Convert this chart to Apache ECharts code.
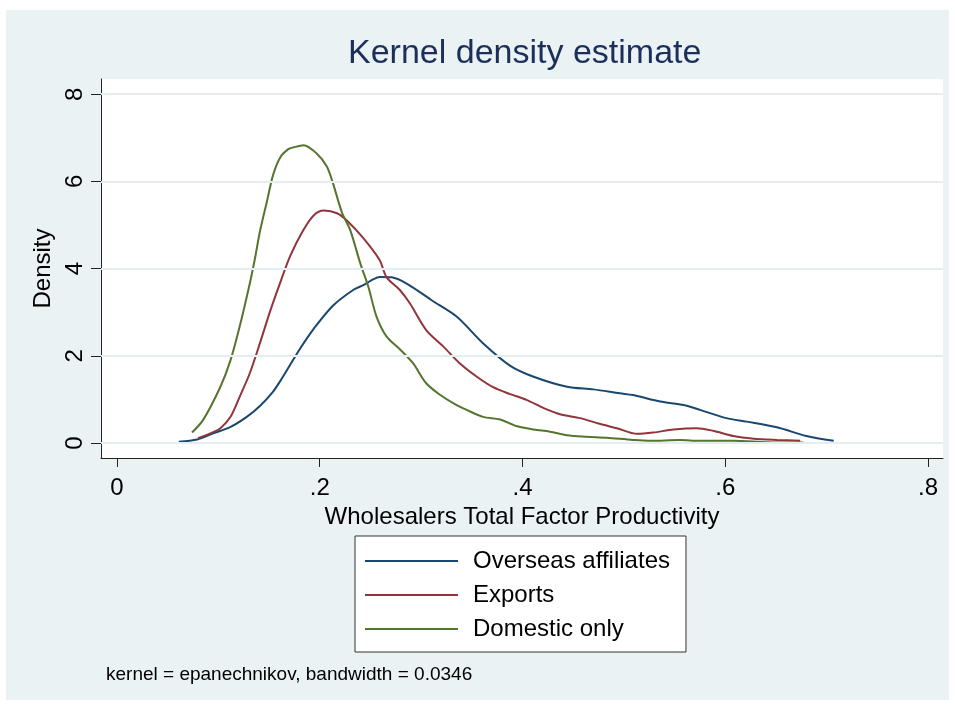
<!DOCTYPE html>
<html>
<head>
<meta charset="utf-8">
<script src="https://cdn.jsdelivr.net/npm/echarts@6/dist/echarts.min.js"></script>
<style>
  html, body { margin: 0; padding: 0; background: #ffffff; }
  #wrap { position: relative; width: 955px; height: 706px; }
  #panel { position: absolute; left: 6px; top: 10px; width: 943px; height: 690px; background: #eaf2f3; }
  #chart { position: absolute; left: 0; top: 0; width: 955px; height: 706px; }
</style>
</head>
<body>
<div id="wrap">
  <div id="panel"></div>
  <div id="chart"></div>
</div>
<script>
// Kernel density curves of wholesaler TFP by firm type
const seriesNames = ['Overseas affiliates', 'Exports', 'Domestic only'];
const seriesColors = ['#1a476f', '#90353b', '#55752f'];

const overseasX = [0.061, 0.079, 0.095, 0.112, 0.128, 0.141, 0.154, 0.161, 0.171, 0.181, 0.194, 0.213, 0.233, 0.243, 0.250, 0.259, 0.271, 0.287, 0.310, 0.335, 0.361, 0.388, 0.411, 0.444, 0.470, 0.496, 0.509, 0.536, 0.559, 0.575, 0.601, 0.621, 0.651, 0.680, 0.707];
const overseasY = [0.03, 0.08, 0.22, 0.37, 0.60, 0.85, 1.18, 1.42, 1.80, 2.18, 2.62, 3.15, 3.51, 3.62, 3.72, 3.81, 3.80, 3.64, 3.28, 2.90, 2.29, 1.77, 1.52, 1.29, 1.23, 1.14, 1.10, 0.95, 0.87, 0.76, 0.57, 0.49, 0.36, 0.16, 0.05];

const exportsX = [0.080, 0.092, 0.102, 0.112, 0.121, 0.131, 0.141, 0.151, 0.161, 0.171, 0.184, 0.194, 0.204, 0.217, 0.227, 0.243, 0.259, 0.266, 0.279, 0.289, 0.305, 0.322, 0.338, 0.355, 0.371, 0.388, 0.404, 0.421, 0.437, 0.457, 0.476, 0.493, 0.513, 0.529, 0.549, 0.572, 0.588, 0.608, 0.628, 0.651, 0.674];
const exportsY = [0.11, 0.22, 0.34, 0.60, 1.06, 1.60, 2.29, 3.02, 3.68, 4.30, 4.89, 5.22, 5.33, 5.27, 5.10, 4.70, 4.20, 3.80, 3.51, 3.20, 2.59, 2.21, 1.83, 1.52, 1.28, 1.12, 0.99, 0.80, 0.66, 0.57, 0.44, 0.34, 0.21, 0.24, 0.31, 0.34, 0.28, 0.16, 0.10, 0.07, 0.05];

const domesticX = [0.074, 0.085, 0.102, 0.112, 0.121, 0.131, 0.136, 0.141, 0.148, 0.154, 0.161, 0.169, 0.174, 0.184, 0.197, 0.207, 0.213, 0.222, 0.230, 0.240, 0.248, 0.256, 0.266, 0.279, 0.292, 0.305, 0.319, 0.332, 0.345, 0.361, 0.378, 0.394, 0.411, 0.427, 0.444, 0.463, 0.483, 0.509, 0.526, 0.555, 0.575, 0.608, 0.641, 0.677];
const domesticY = [0.24, 0.53, 1.29, 1.90, 2.67, 3.66, 4.22, 4.85, 5.55, 6.15, 6.55, 6.74, 6.78, 6.83, 6.64, 6.34, 5.96, 5.28, 4.89, 4.12, 3.58, 2.90, 2.44, 2.15, 1.83, 1.37, 1.10, 0.91, 0.76, 0.60, 0.54, 0.39, 0.31, 0.26, 0.18, 0.145, 0.12, 0.07, 0.05, 0.07, 0.05, 0.05, 0.02, 0.01];

const xTicks = [0, 0.2, 0.4, 0.6, 0.8];
const yTicks = [0, 2, 4, 6, 8];

const titleText = 'Kernel density estimate';
const xAxisTitle = 'Wholesalers Total Factor Productivity';
const yAxisTitle = 'Density';
const noteText = 'kernel = epanechnikov, bandwidth = 0.0346';

const FONT = '"Liberation Sans", Arial, Helvetica, sans-serif';

function pairs(xs, ys) {
  return xs.map((x, i) => [x, ys[i]]);
}
const curves = [pairs(overseasX, overseasY), pairs(exportsX, exportsY), pairs(domesticX, domesticY)];

function stataNum(v) {
  if (v === 0) return '0';
  return String(+v.toFixed(4)).replace(/^0\./, '.');
}

const chart = echarts.init(document.getElementById('chart'), null, { renderer: 'canvas' });

const lineSeries = seriesNames.map((name, i) => ({
  name: name,
  type: 'line',
  data: curves[i],
  showSymbol: false,
  symbol: 'none',
  smooth: 0.3,
  z: 3,
  lineStyle: { color: seriesColors[i], width: 2 },
  itemStyle: { color: seriesColors[i] },
  emphasis: { disabled: true }
}));

chart.setOption({
  backgroundColor: 'transparent',
  animation: false,
  textStyle: { fontFamily: FONT },
  title: {
    text: titleText,
    left: 348,
    top: 37,
    padding: 0,
    textStyle: { fontFamily: FONT, fontSize: 34, fontWeight: 'normal', color: '#1c2f5a' }
  },
  grid: {
    left: 101, top: 79, right: 12, bottom: 248,
    show: true, backgroundColor: '#ffffff', borderWidth: 0,
    containLabel: false
  },
  xAxis: {
    type: 'value',
    min: -0.01578,
    max: 0.8148,
    name: xAxisTitle,
    nameLocation: 'middle',
    nameGap: 40,
    nameTextStyle: { fontFamily: FONT, fontSize: 24, color: '#000' },
    axisLine: { show: true, onZero: false, lineStyle: { color: '#222', width: 1 } },
    axisTick: { show: true, customValues: xTicks, length: 9, lineStyle: { color: '#222', width: 1 } },
    axisLabel: { show: true, customValues: xTicks, margin: 18, fontFamily: FONT, fontSize: 24, color: '#000', formatter: stataNum },
    splitLine: { show: false }
  },
  yAxis: {
    type: 'value',
    min: -0.344,
    max: 8.349,
    name: yAxisTitle,
    nameLocation: 'middle',
    nameRotate: 90,
    nameGap: 38,
    nameTextStyle: { fontFamily: FONT, fontSize: 24, color: '#000' },
    axisLine: { show: true, onZero: false, lineStyle: { color: '#222', width: 1 } },
    axisTick: { show: true, customValues: yTicks, length: 10, lineStyle: { color: '#222', width: 1 } },
    axisLabel: { show: true, customValues: yTicks, rotate: 90, margin: 14, fontFamily: FONT, fontSize: 24, color: '#000', formatter: stataNum },
    splitLine: { show: false }
  },
  legend: {
    data: seriesNames,
    orient: 'vertical',
    left: 355,
    top: 536,
    padding: [13, 16, 11, 10],
    itemGap: 10,
    itemWidth: 93,
    itemHeight: 2,
    icon: 'rect',
    backgroundColor: '#ffffff',
    borderColor: '#333333',
    borderWidth: 1,
    borderRadius: 0,
    selectedMode: false,
    textStyle: { fontFamily: FONT, fontSize: 24, lineHeight: 24, color: '#000', padding: [0, 0, 0, 10] }
  },
  graphic: [{
    type: 'text',
    left: 106,
    top: 665,
    silent: true,
    style: { text: noteText, font: '19px ' + FONT, fill: '#000' }
  }],
  series: [{
    name: 'grid',
    type: 'line',
    data: [],
    z: 1,
    silent: true,
    markLine: {
      silent: true,
      symbol: ['none', 'none'],
      label: { show: false },
      lineStyle: { color: '#e4edef', width: 2, type: 'solid' },
      emphasis: { disabled: true },
      data: yTicks.map(v => ({ yAxis: v }))
    }
  }].concat(lineSeries)
});
</script>
</body>
</html>
